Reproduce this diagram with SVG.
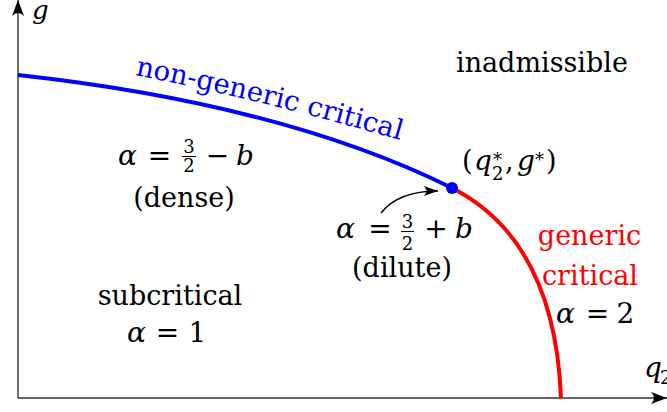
<svg xmlns="http://www.w3.org/2000/svg" width="667" height="412" viewBox="0 0 667 412">
<defs>
<style>
text{font-family:"DejaVu Serif","Liberation Serif",serif;fill:#000}
.t{font-size:27px}
.m{font-style:italic;font-size:28px}
.r{font-size:28px}
.f{font-size:18px}
.blue{fill:#0000ff}
.red{fill:#ff0000}
.axis{stroke:#333;stroke-width:1.4;fill:none}
.bar{stroke:#000;stroke-width:1.1}
</style>
<marker id="ah" markerUnits="userSpaceOnUse" markerWidth="16" markerHeight="12" refX="16" refY="6" orient="auto" viewBox="0 0 16 12">
<path d="M0,0 Q6,6 0,12 L16,6 Z" fill="#000"/>
</marker>
<marker id="sh" markerUnits="userSpaceOnUse" markerWidth="14" markerHeight="10" refX="14" refY="5" orient="auto" viewBox="0 0 14 10">
<path d="M0,0 L14,5 L0,10 L3,5 Z" fill="#000"/>
</marker>
<path id="ngpath" d="M135,75 Q262,100 400,140"/>
</defs>
<rect width="667" height="412" fill="#fff"/>
<g id="axes">
<line class="axis" x1="18" y1="398" x2="18" y2="0" marker-end="url(#ah)"/>
<line class="axis" x1="18" y1="398" x2="667" y2="398" marker-end="url(#ah)"/>
<text class="m" x="32" y="19" style="font-size:26px">g</text>
<text class="m" x="644" y="377">q</text>
<text class="f" x="660" y="384">2</text>
</g>
<g id="connectors">
<path d="M18,75 C200,95 345,135 452,188" stroke="#0000ff" stroke-width="4" fill="none"/>
<path d="M452,188 C505,215 556,272 561,398" stroke="#ff0000" stroke-width="4" fill="none"/>
<path d="M381,213 C392,199 412,191 438,191" stroke="#000" stroke-width="1.4" fill="none" marker-end="url(#sh)"/>
</g>
<g id="critical-point">
<circle cx="452" cy="188" r="6" fill="#0000ff"/>
<text class="t" x="462" y="170">(</text>
<text class="m" x="474" y="170">q</text>
<text class="f" x="493" y="166">*</text>
<text class="f" x="492" y="180">2</text>
<text class="t" x="505" y="170">,</text>
<text class="m" x="517" y="170">g</text>
<text class="f" x="535" y="166">*</text>
<text class="t" x="546" y="170">)</text>
</g>
<g id="non-generic-label">
<text class="t blue" style="font-size:27.5px"><textPath href="#ngpath">non-generic critical</textPath></text>
</g>
<g id="inadmissible">
<text class="t" x="456" y="72">inadmissible</text>
</g>
<g id="dense">
<text class="m" x="118" y="165">α</text>
<text class="r" x="159.5" y="165" text-anchor="middle">=</text>
<text class="f" x="189" y="153" text-anchor="middle">3</text>
<line class="bar" x1="182" y1="156.5" x2="196" y2="156.5"/>
<text class="f" x="189" y="172" text-anchor="middle">2</text>
<text class="r" x="217.5" y="165" text-anchor="middle">−</text>
<text class="m" x="236" y="165">b</text>
<text class="t" x="184" y="207" text-anchor="middle">(dense)</text>
</g>
<g id="dilute">
<text class="m" x="336" y="238">α</text>
<text class="r" x="380" y="238" text-anchor="middle">=</text>
<text class="f" x="407.5" y="228" text-anchor="middle">3</text>
<line class="bar" x1="401" y1="231.5" x2="414" y2="231.5"/>
<text class="f" x="407.5" y="250" text-anchor="middle">2</text>
<text class="r" x="436" y="238" text-anchor="middle">+</text>
<text class="m" x="455" y="238">b</text>
<text class="t" x="402" y="277" text-anchor="middle">(dilute)</text>
</g>
<g id="subcritical">
<text class="t" x="170" y="305" text-anchor="middle">subcritical</text>
<text class="m" x="127" y="342">α</text>
<text class="r" x="167.5" y="342" text-anchor="middle">=</text>
<text class="r" x="197.5" y="342" text-anchor="middle">1</text>
</g>
<g id="generic">
<text class="t red" x="589.5" y="245" text-anchor="middle">generic</text>
<text class="t red" x="590" y="285" text-anchor="middle">critical</text>
<text class="m" x="556" y="323">α</text>
<text class="r" x="597.5" y="323" text-anchor="middle">=</text>
<text class="r" x="625.5" y="323" text-anchor="middle">2</text>
</g>
</svg>
